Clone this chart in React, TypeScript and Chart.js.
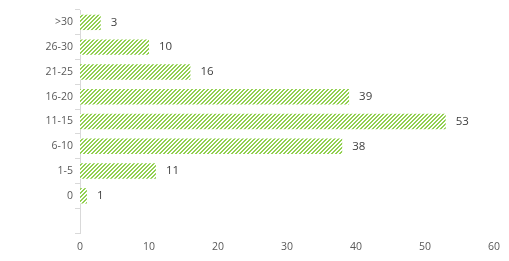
import React, { useEffect, useRef } from "react";
import { Chart, registerables } from "chart.js";

Chart.register(...registerables);

const categories = [">30", "26-30", "21-25", "16-20", "11-15", "6-10", "1-5", "0", ""];
const counts: (number | null)[] = [3, 10, 16, 39, 53, 38, 11, 1, null];
const xTicks = [0, 10, 20, 30, 40, 50, 60];

function makePattern(): CanvasPattern | string {
  const c = document.createElement("canvas");
  c.width = 4;
  c.height = 4;
  const ctx = c.getContext("2d");
  if (!ctx) return "#92D050";
  ctx.fillStyle = "#ffffff";
  ctx.fillRect(0, 0, 4, 4);
  ctx.fillStyle = "#92D050";
  for (let y = 0; y < 4; y++) {
    for (let x = 0; x < 4; x++) {
      if ((x + y) % 4 < 2) ctx.fillRect(x, y, 1, 1);
    }
  }
  return ctx.createPattern(c, "repeat") || "#92D050";
}

const valueLabels = {
  id: "valueLabels",
  afterDatasetsDraw(chart: any) {
    const ctx = chart.ctx;
    const meta = chart.getDatasetMeta(0);
    ctx.save();
    ctx.font = "11.5px 'Open Sans'";
    ctx.fillStyle = "#404040";
    ctx.textBaseline = "middle";
    ctx.textAlign = "left";
    meta.data.forEach((el: any, i: number) => {
      const v = counts[i];
      if (v === null || v === undefined) return;
      ctx.fillText(String(v), el.x + 10, el.y);
    });
    ctx.restore();
  },
};

export default function App() {
  const ref = useRef<HTMLCanvasElement>(null);
  useEffect(() => {
    if (!ref.current) return;
    const chart = new Chart(ref.current, {
      type: "bar",
      data: {
        labels: categories,
        datasets: [
          {
            data: counts,
            backgroundColor: makePattern() as any,
            borderWidth: 0,
            categoryPercentage: 1,
            barPercentage: 0.62,
          },
        ],
      },
      options: {
        indexAxis: "y",
        animation: false,
        responsive: false,
        maintainAspectRatio: false,
        layout: { padding: { left: 0, right: 15, top: 10, bottom: 0 } },
        plugins: { legend: { display: false }, tooltip: { enabled: false } },
        scales: {
          x: {
            min: 0,
            max: 60,
            afterBuildTicks: (scale: any) => {
              scale.ticks = xTicks.map((v) => ({ value: v }));
            },
            grid: { display: false, drawTicks: false },
            border: { display: false },
            ticks: {
              color: "#595959",
              font: { family: "'Open Sans'", size: 10.5 },
              padding: 8,
              maxRotation: 0,
            },
            afterFit: (scale: any) => {
              scale.height = 28;
            },
          },
          y: {
            grid: {
              drawOnChartArea: false,
              drawTicks: true,
              tickLength: 5,
              color: "#d9d9d9",
              offset: true,
            },
            border: { display: true, color: "#d9d9d9", width: 1 },
            ticks: {
              color: "#595959",
              font: { family: "'Open Sans'", size: 10.5 },
              padding: 2,
              autoSkip: false,
            },
            afterFit: (scale: any) => {
              scale.width = 80;
            },
          },
        },
      },
      plugins: [valueLabels],
    });
    return () => chart.destroy();
  }, []);
  return (
    <div style={{ position: "fixed", left: 0, top: 0, width: 509, height: 261, background: "#fff" }}>
      <canvas ref={ref} width={509} height={261} style={{ width: 509, height: 261 }} />
    </div>
  );
}
